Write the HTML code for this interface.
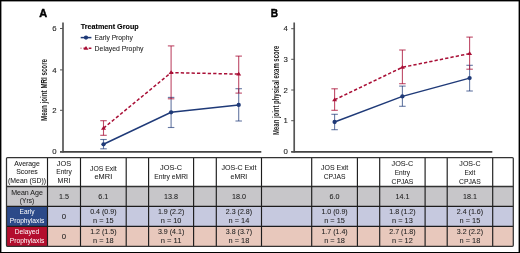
<!DOCTYPE html>
<html><head><meta charset="utf-8"><style>
html,body{margin:0;padding:0;width:520px;height:253px;overflow:hidden;background:#fff;}
svg{will-change:transform;transform:translateZ(0);-webkit-font-smoothing:antialiased;}
</style></head><body>
<svg width="520" height="253" viewBox="0 0 520 253" style="position:absolute;left:0;top:0;font-family:'Liberation Sans', sans-serif">
<rect x="0" y="0" width="520" height="253" fill="#fff"/>
<text x="39.3" y="16.6" font-size="11.6" text-anchor="start" fill="#000" stroke="#000" stroke-width="0.45" font-weight="bold" textLength="7.9" lengthAdjust="spacingAndGlyphs">A</text>
<line x1="63" y1="22.5" x2="63" y2="152.4" stroke="#555" stroke-width="1.7"/>
<line x1="60" y1="151.8" x2="261.3" y2="151.8" stroke="#444" stroke-width="1.7"/>
<line x1="60" y1="28.5" x2="63" y2="28.5" stroke="#555" stroke-width="1"/>
<text x="56.6" y="31.2" font-size="7.8" text-anchor="end" fill="#222" stroke="#222" stroke-width="0.1" font-weight="normal">6</text>
<line x1="60" y1="69.9" x2="63" y2="69.9" stroke="#555" stroke-width="1"/>
<text x="56.6" y="72.60000000000001" font-size="7.8" text-anchor="end" fill="#222" stroke="#222" stroke-width="0.1" font-weight="normal">4</text>
<line x1="60" y1="110.3" x2="63" y2="110.3" stroke="#555" stroke-width="1"/>
<text x="56.6" y="113.0" font-size="7.8" text-anchor="end" fill="#222" stroke="#222" stroke-width="0.1" font-weight="normal">2</text>
<line x1="60" y1="151.6" x2="63" y2="151.6" stroke="#555" stroke-width="1"/>
<text x="56.6" y="154.29999999999998" font-size="7.8" text-anchor="end" fill="#222" stroke="#222" stroke-width="0.1" font-weight="normal">0</text>
<text transform="translate(46.8,90.0) rotate(-90)" x="0" y="0" font-size="8.8" text-anchor="middle" fill="#222" stroke="#222" stroke-width="0" font-weight="bold" textLength="62" lengthAdjust="spacingAndGlyphs">Mean joint MRI score</text>
<line x1="103.5" y1="139.5" x2="103.5" y2="148.8" stroke="#1f3a78" stroke-width="1.1" opacity="0.68"/>
<line x1="100.25" y1="139.5" x2="106.75" y2="139.5" stroke="#1f3a78" stroke-width="1.1" opacity="0.68"/>
<line x1="100.25" y1="148.8" x2="106.75" y2="148.8" stroke="#1f3a78" stroke-width="1.1" opacity="0.68"/>
<line x1="171.1" y1="97.4" x2="171.1" y2="127.5" stroke="#1f3a78" stroke-width="1.1" opacity="0.68"/>
<line x1="167.85" y1="97.4" x2="174.35" y2="97.4" stroke="#1f3a78" stroke-width="1.1" opacity="0.68"/>
<line x1="167.85" y1="127.5" x2="174.35" y2="127.5" stroke="#1f3a78" stroke-width="1.1" opacity="0.68"/>
<line x1="238.7" y1="88.7" x2="238.7" y2="121" stroke="#1f3a78" stroke-width="1.1" opacity="0.68"/>
<line x1="235.45" y1="88.7" x2="241.95" y2="88.7" stroke="#1f3a78" stroke-width="1.1" opacity="0.68"/>
<line x1="235.45" y1="121" x2="241.95" y2="121" stroke="#1f3a78" stroke-width="1.1" opacity="0.68"/>
<line x1="103.5" y1="120.7" x2="103.5" y2="135.3" stroke="#a90f36" stroke-width="1.1" opacity="0.75"/>
<line x1="100.25" y1="120.7" x2="106.75" y2="120.7" stroke="#a90f36" stroke-width="1.1" opacity="0.75"/>
<line x1="100.25" y1="135.3" x2="106.75" y2="135.3" stroke="#a90f36" stroke-width="1.1" opacity="0.75"/>
<line x1="171.1" y1="45.9" x2="171.1" y2="98.8" stroke="#a90f36" stroke-width="1.1" opacity="0.75"/>
<line x1="167.85" y1="45.9" x2="174.35" y2="45.9" stroke="#a90f36" stroke-width="1.1" opacity="0.75"/>
<line x1="167.85" y1="98.8" x2="174.35" y2="98.8" stroke="#a90f36" stroke-width="1.1" opacity="0.75"/>
<line x1="238.7" y1="56.1" x2="238.7" y2="93.1" stroke="#a90f36" stroke-width="1.1" opacity="0.75"/>
<line x1="235.45" y1="56.1" x2="241.95" y2="56.1" stroke="#a90f36" stroke-width="1.1" opacity="0.75"/>
<line x1="235.45" y1="93.1" x2="241.95" y2="93.1" stroke="#a90f36" stroke-width="1.1" opacity="0.75"/>
<polyline points="103.5,144.3 171.1,112.3 238.7,104.9" fill="none" stroke="#1f3a78" stroke-width="1.5"/>
<polyline points="103.5,128.2 171.1,72.6 238.7,74.1" fill="none" stroke="#a90f36" stroke-width="1.5" stroke-dasharray="3.3,2.1"/>
<circle cx="103.5" cy="144.3" r="2.15" fill="#1f3a78"/>
<circle cx="171.1" cy="112.3" r="2.15" fill="#1f3a78"/>
<circle cx="238.7" cy="104.9" r="2.15" fill="#1f3a78"/>
<path d="M101.0,129.7 L106.0,129.7 L103.5,125.89999999999999 Z" fill="#a90f36"/>
<path d="M168.6,74.1 L173.6,74.1 L171.1,70.3 Z" fill="#a90f36"/>
<path d="M236.2,75.6 L241.2,75.6 L238.7,71.8 Z" fill="#a90f36"/>
<text x="270.7" y="16.6" font-size="11.6" text-anchor="start" fill="#000" stroke="#000" stroke-width="0.45" font-weight="bold" textLength="7.3" lengthAdjust="spacingAndGlyphs">B</text>
<line x1="294.2" y1="22.5" x2="294.2" y2="152.4" stroke="#555" stroke-width="1.7"/>
<line x1="291.2" y1="151.8" x2="492.3" y2="151.8" stroke="#444" stroke-width="1.7"/>
<line x1="291.2" y1="28.7" x2="294.2" y2="28.7" stroke="#555" stroke-width="1"/>
<text x="287.8" y="31.4" font-size="7.8" text-anchor="end" fill="#222" stroke="#222" stroke-width="0.1" font-weight="normal">4</text>
<line x1="291.2" y1="59.3" x2="294.2" y2="59.3" stroke="#555" stroke-width="1"/>
<text x="287.8" y="62.0" font-size="7.8" text-anchor="end" fill="#222" stroke="#222" stroke-width="0.1" font-weight="normal">3</text>
<line x1="291.2" y1="90" x2="294.2" y2="90" stroke="#555" stroke-width="1"/>
<text x="287.8" y="92.7" font-size="7.8" text-anchor="end" fill="#222" stroke="#222" stroke-width="0.1" font-weight="normal">2</text>
<line x1="291.2" y1="120.7" x2="294.2" y2="120.7" stroke="#555" stroke-width="1"/>
<text x="287.8" y="123.4" font-size="7.8" text-anchor="end" fill="#222" stroke="#222" stroke-width="0.1" font-weight="normal">1</text>
<line x1="291.2" y1="151.6" x2="294.2" y2="151.6" stroke="#555" stroke-width="1"/>
<text x="287.8" y="154.29999999999998" font-size="7.8" text-anchor="end" fill="#222" stroke="#222" stroke-width="0.1" font-weight="normal">0</text>
<text transform="translate(278.9,90.35) rotate(-90)" x="0" y="0" font-size="9.6" text-anchor="middle" fill="#222" stroke="#222" stroke-width="0" font-weight="bold" textLength="89.10000000000001" lengthAdjust="spacingAndGlyphs">Mean joint physical exam score</text>
<line x1="334.6" y1="114.3" x2="334.6" y2="129.7" stroke="#1f3a78" stroke-width="1.1" opacity="0.68"/>
<line x1="331.35" y1="114.3" x2="337.85" y2="114.3" stroke="#1f3a78" stroke-width="1.1" opacity="0.68"/>
<line x1="331.35" y1="129.7" x2="337.85" y2="129.7" stroke="#1f3a78" stroke-width="1.1" opacity="0.68"/>
<line x1="402.4" y1="86.1" x2="402.4" y2="106.3" stroke="#1f3a78" stroke-width="1.1" opacity="0.68"/>
<line x1="399.15" y1="86.1" x2="405.65" y2="86.1" stroke="#1f3a78" stroke-width="1.1" opacity="0.68"/>
<line x1="399.15" y1="106.3" x2="405.65" y2="106.3" stroke="#1f3a78" stroke-width="1.1" opacity="0.68"/>
<line x1="469.6" y1="65.3" x2="469.6" y2="91" stroke="#1f3a78" stroke-width="1.1" opacity="0.68"/>
<line x1="466.35" y1="65.3" x2="472.85" y2="65.3" stroke="#1f3a78" stroke-width="1.1" opacity="0.68"/>
<line x1="466.35" y1="91" x2="472.85" y2="91" stroke="#1f3a78" stroke-width="1.1" opacity="0.68"/>
<line x1="334.6" y1="88.8" x2="334.6" y2="110.3" stroke="#a90f36" stroke-width="1.1" opacity="0.75"/>
<line x1="331.35" y1="88.8" x2="337.85" y2="88.8" stroke="#a90f36" stroke-width="1.1" opacity="0.75"/>
<line x1="331.35" y1="110.3" x2="337.85" y2="110.3" stroke="#a90f36" stroke-width="1.1" opacity="0.75"/>
<line x1="402.4" y1="50" x2="402.4" y2="83.7" stroke="#a90f36" stroke-width="1.1" opacity="0.75"/>
<line x1="399.15" y1="50" x2="405.65" y2="50" stroke="#a90f36" stroke-width="1.1" opacity="0.75"/>
<line x1="399.15" y1="83.7" x2="405.65" y2="83.7" stroke="#a90f36" stroke-width="1.1" opacity="0.75"/>
<line x1="469.6" y1="37.1" x2="469.6" y2="69.2" stroke="#a90f36" stroke-width="1.1" opacity="0.75"/>
<line x1="466.35" y1="37.1" x2="472.85" y2="37.1" stroke="#a90f36" stroke-width="1.1" opacity="0.75"/>
<line x1="466.35" y1="69.2" x2="472.85" y2="69.2" stroke="#a90f36" stroke-width="1.1" opacity="0.75"/>
<polyline points="334.6,122 402.4,96.4 469.6,78.1" fill="none" stroke="#1f3a78" stroke-width="1.5"/>
<polyline points="334.6,99.8 402.4,67.3 469.6,53.6" fill="none" stroke="#a90f36" stroke-width="1.5" stroke-dasharray="3.3,2.1"/>
<circle cx="334.6" cy="122" r="2.15" fill="#1f3a78"/>
<circle cx="402.4" cy="96.4" r="2.15" fill="#1f3a78"/>
<circle cx="469.6" cy="78.1" r="2.15" fill="#1f3a78"/>
<path d="M332.1,101.3 L337.1,101.3 L334.6,97.5 Z" fill="#a90f36"/>
<path d="M399.9,68.8 L404.9,68.8 L402.4,65.0 Z" fill="#a90f36"/>
<path d="M467.1,55.1 L472.1,55.1 L469.6,51.300000000000004 Z" fill="#a90f36"/>
<text x="80.7" y="28.9" font-size="7.9" text-anchor="start" fill="#000" stroke="#000" stroke-width="0.12" font-weight="bold" textLength="58" lengthAdjust="spacingAndGlyphs">Treatment Group</text>
<line x1="80.7" y1="37.6" x2="91.4" y2="37.6" stroke="#1f3a78" stroke-width="1.5"/>
<circle cx="86" cy="37.6" r="2.15" fill="#1f3a78"/>
<text x="94.6" y="39.8" font-size="7.9" text-anchor="start" fill="#222" stroke="#222" stroke-width="0.06" font-weight="normal" textLength="38.2" lengthAdjust="spacingAndGlyphs">Early Prophy</text>
<line x1="80.7" y1="48.3" x2="91.4" y2="48.3" stroke="#a90f36" stroke-width="1.5" stroke-dasharray="3,2.2" stroke-dashoffset="2.4"/>
<path d="M83.5,49.8 L88.5,49.8 L86,46.0 Z" fill="#a90f36"/>
<text x="94.6" y="50.6" font-size="7.9" text-anchor="start" fill="#222" stroke="#222" stroke-width="0.06" font-weight="normal" textLength="48.9" lengthAdjust="spacingAndGlyphs">Delayed Prophy</text>
<rect x="6.5" y="157.6" width="506.79999999999995" height="88.70000000000002" fill="#fff"/>
<rect x="6.5" y="186.6" width="506.79999999999995" height="19.700000000000017" fill="#c7c6c9"/>
<rect x="6.5" y="206.3" width="506.79999999999995" height="20.0" fill="#c6c9df"/>
<rect x="6.5" y="226.3" width="506.79999999999995" height="20.0" fill="#e8c8bc"/>
<rect x="6.5" y="206.3" width="41.0" height="20.0" fill="#2c4a89"/>
<rect x="6.5" y="226.3" width="41.0" height="20.0" fill="#b30e2d"/>
<line x1="6.5" y1="186.6" x2="513.3" y2="186.6" stroke="#333" stroke-width="1.5"/>
<line x1="6.5" y1="206.3" x2="513.3" y2="206.3" stroke="#1c1c1c" stroke-width="1.15"/>
<line x1="6.5" y1="226.3" x2="513.3" y2="226.3" stroke="#1c1c1c" stroke-width="1.15"/>
<line x1="47.5" y1="157.6" x2="47.5" y2="246.3" stroke="#1c1c1c" stroke-width="1.15"/>
<line x1="80.5" y1="157.6" x2="80.5" y2="246.3" stroke="#1c1c1c" stroke-width="1.15"/>
<line x1="126.2" y1="157.6" x2="126.2" y2="246.3" stroke="#1c1c1c" stroke-width="1.15"/>
<line x1="148.6" y1="157.6" x2="148.6" y2="246.3" stroke="#1c1c1c" stroke-width="1.15"/>
<line x1="193.6" y1="157.6" x2="193.6" y2="246.3" stroke="#1c1c1c" stroke-width="1.15"/>
<line x1="216.3" y1="157.6" x2="216.3" y2="246.3" stroke="#1c1c1c" stroke-width="1.15"/>
<line x1="261.5" y1="157.6" x2="261.5" y2="246.3" stroke="#1c1c1c" stroke-width="1.15"/>
<line x1="311.7" y1="157.6" x2="311.7" y2="246.3" stroke="#1c1c1c" stroke-width="1.15"/>
<line x1="357.4" y1="157.6" x2="357.4" y2="246.3" stroke="#1c1c1c" stroke-width="1.15"/>
<line x1="379.7" y1="157.6" x2="379.7" y2="246.3" stroke="#1c1c1c" stroke-width="1.15"/>
<line x1="425.1" y1="157.6" x2="425.1" y2="246.3" stroke="#1c1c1c" stroke-width="1.15"/>
<line x1="447.2" y1="157.6" x2="447.2" y2="246.3" stroke="#1c1c1c" stroke-width="1.15"/>
<line x1="492.7" y1="157.6" x2="492.7" y2="246.3" stroke="#1c1c1c" stroke-width="1.15"/>
<rect x="6.5" y="157.6" width="506.79999999999995" height="88.70000000000002" rx="1" fill="none" stroke="#333" stroke-width="1.25"/>
<text x="27.0" y="165.6" font-size="7.8" text-anchor="middle" fill="#222" stroke="#222" stroke-width="0.06" font-weight="normal" textLength="25.5" lengthAdjust="spacingAndGlyphs">Average</text>
<text x="27.0" y="173.9" font-size="7.8" text-anchor="middle" fill="#222" stroke="#222" stroke-width="0.06" font-weight="normal" textLength="21.6" lengthAdjust="spacingAndGlyphs">Scores</text>
<text x="27.0" y="182.70000000000002" font-size="7.8" text-anchor="middle" fill="#222" stroke="#222" stroke-width="0.06" font-weight="normal" textLength="38" lengthAdjust="spacingAndGlyphs">(Mean (SD))</text>
<text x="64.0" y="165.5" font-size="7.8" text-anchor="middle" fill="#222" stroke="#222" stroke-width="0.06" font-weight="normal" textLength="14.3" lengthAdjust="spacingAndGlyphs">JOS</text>
<text x="64.0" y="174.20000000000002" font-size="7.8" text-anchor="middle" fill="#222" stroke="#222" stroke-width="0.06" font-weight="normal" textLength="15.5" lengthAdjust="spacingAndGlyphs">Entry</text>
<text x="64.0" y="182.70000000000002" font-size="7.8" text-anchor="middle" fill="#222" stroke="#222" stroke-width="0.06" font-weight="normal" textLength="12.8" lengthAdjust="spacingAndGlyphs">MRI</text>
<text x="103.35" y="170.70000000000002" font-size="7.8" text-anchor="middle" fill="#222" stroke="#222" stroke-width="0.06" font-weight="normal" textLength="26.6" lengthAdjust="spacingAndGlyphs">JOS Exit</text>
<text x="103.35" y="179.0" font-size="7.8" text-anchor="middle" fill="#222" stroke="#222" stroke-width="0.06" font-weight="normal" textLength="17.7" lengthAdjust="spacingAndGlyphs">eMRI</text>
<text x="171.1" y="170.20000000000002" font-size="7.8" text-anchor="middle" fill="#222" stroke="#222" stroke-width="0.06" font-weight="normal" textLength="22" lengthAdjust="spacingAndGlyphs">JOS-C</text>
<text x="171.1" y="179.0" font-size="7.8" text-anchor="middle" fill="#222" stroke="#222" stroke-width="0.06" font-weight="normal" textLength="33.8" lengthAdjust="spacingAndGlyphs">Entry eMRI</text>
<text x="238.9" y="170.0" font-size="7.8" text-anchor="middle" fill="#222" stroke="#222" stroke-width="0.06" font-weight="normal" textLength="35" lengthAdjust="spacingAndGlyphs">JOS-C Exit</text>
<text x="238.9" y="178.9" font-size="7.8" text-anchor="middle" fill="#222" stroke="#222" stroke-width="0.06" font-weight="normal" textLength="16.8" lengthAdjust="spacingAndGlyphs">eMRI</text>
<text x="334.54999999999995" y="170.20000000000002" font-size="7.8" text-anchor="middle" fill="#222" stroke="#222" stroke-width="0.06" font-weight="normal" textLength="27.1" lengthAdjust="spacingAndGlyphs">JOS Exit</text>
<text x="334.54999999999995" y="178.70000000000002" font-size="7.8" text-anchor="middle" fill="#222" stroke="#222" stroke-width="0.06" font-weight="normal" textLength="21.7" lengthAdjust="spacingAndGlyphs">CPJAS</text>
<text x="402.4" y="166.0" font-size="7.8" text-anchor="middle" fill="#222" stroke="#222" stroke-width="0.06" font-weight="normal" textLength="21.8" lengthAdjust="spacingAndGlyphs">JOS-C</text>
<text x="402.4" y="174.70000000000002" font-size="7.8" text-anchor="middle" fill="#222" stroke="#222" stroke-width="0.06" font-weight="normal" textLength="15.3" lengthAdjust="spacingAndGlyphs">Entry</text>
<text x="402.4" y="183.5" font-size="7.8" text-anchor="middle" fill="#222" stroke="#222" stroke-width="0.06" font-weight="normal" textLength="21.8" lengthAdjust="spacingAndGlyphs">CPJAS</text>
<text x="469.95" y="166.0" font-size="7.8" text-anchor="middle" fill="#222" stroke="#222" stroke-width="0.06" font-weight="normal" textLength="21.2" lengthAdjust="spacingAndGlyphs">JOS-C</text>
<text x="469.95" y="174.70000000000002" font-size="7.8" text-anchor="middle" fill="#222" stroke="#222" stroke-width="0.06" font-weight="normal" textLength="10.8" lengthAdjust="spacingAndGlyphs">Exit</text>
<text x="469.95" y="183.5" font-size="7.8" text-anchor="middle" fill="#222" stroke="#222" stroke-width="0.06" font-weight="normal" textLength="21.8" lengthAdjust="spacingAndGlyphs">CPJAS</text>
<text x="27.0" y="194.8" font-size="7.8" text-anchor="middle" fill="#222" stroke="#222" stroke-width="0.06" font-weight="normal" textLength="31.6" lengthAdjust="spacingAndGlyphs">Mean Age</text>
<text x="27.0" y="203.1" font-size="7.8" text-anchor="middle" fill="#222" stroke="#222" stroke-width="0.06" font-weight="normal" textLength="14.3" lengthAdjust="spacingAndGlyphs">(Yrs)</text>
<text x="64.0" y="199.20000000000002" font-size="7.8" text-anchor="middle" fill="#222" stroke="#222" stroke-width="0.06" font-weight="normal" textLength="9.98" lengthAdjust="spacingAndGlyphs">1.5</text>
<text x="103.35" y="199.20000000000002" font-size="7.8" text-anchor="middle" fill="#222" stroke="#222" stroke-width="0.06" font-weight="normal" textLength="9.98" lengthAdjust="spacingAndGlyphs">6.1</text>
<text x="171.1" y="199.20000000000002" font-size="7.8" text-anchor="middle" fill="#222" stroke="#222" stroke-width="0.06" font-weight="normal" textLength="13.97" lengthAdjust="spacingAndGlyphs">13.8</text>
<text x="238.9" y="199.20000000000002" font-size="7.8" text-anchor="middle" fill="#222" stroke="#222" stroke-width="0.06" font-weight="normal" textLength="13.97" lengthAdjust="spacingAndGlyphs">18.0</text>
<text x="334.54999999999995" y="199.20000000000002" font-size="7.8" text-anchor="middle" fill="#222" stroke="#222" stroke-width="0.06" font-weight="normal" textLength="9.98" lengthAdjust="spacingAndGlyphs">6.0</text>
<text x="402.4" y="199.20000000000002" font-size="7.8" text-anchor="middle" fill="#222" stroke="#222" stroke-width="0.06" font-weight="normal" textLength="13.97" lengthAdjust="spacingAndGlyphs">14.1</text>
<text x="469.95" y="199.20000000000002" font-size="7.8" text-anchor="middle" fill="#222" stroke="#222" stroke-width="0.06" font-weight="normal" textLength="13.97" lengthAdjust="spacingAndGlyphs">18.1</text>
<text x="27.0" y="214.3" font-size="7.8" text-anchor="middle" fill="#fff" stroke="#fff" stroke-width="0" font-weight="normal" textLength="15" lengthAdjust="spacingAndGlyphs">Early</text>
<text x="27.0" y="222.70000000000002" font-size="7.8" text-anchor="middle" fill="#fff" stroke="#fff" stroke-width="0" font-weight="normal" textLength="34.5" lengthAdjust="spacingAndGlyphs">Prophylaxis</text>
<text x="64.0" y="219.0" font-size="7.8" text-anchor="middle" fill="#222" stroke="#222" stroke-width="0.06" font-weight="normal">0</text>
<text x="103.35" y="214.4" font-size="7.8" text-anchor="middle" fill="#222" stroke="#222" stroke-width="0.06" font-weight="normal" textLength="26.3" lengthAdjust="spacingAndGlyphs">0.4 (0.9)</text>
<text x="103.35" y="222.9" font-size="7.8" text-anchor="middle" fill="#222" stroke="#222" stroke-width="0.06" font-weight="normal" textLength="20.7" lengthAdjust="spacingAndGlyphs">n = 15</text>
<text x="171.1" y="214.4" font-size="7.8" text-anchor="middle" fill="#222" stroke="#222" stroke-width="0.06" font-weight="normal" textLength="26.3" lengthAdjust="spacingAndGlyphs">1.9 (2.2)</text>
<text x="171.1" y="222.9" font-size="7.8" text-anchor="middle" fill="#222" stroke="#222" stroke-width="0.06" font-weight="normal" textLength="20.7" lengthAdjust="spacingAndGlyphs">n = 10</text>
<text x="238.9" y="214.4" font-size="7.8" text-anchor="middle" fill="#222" stroke="#222" stroke-width="0.06" font-weight="normal" textLength="26.3" lengthAdjust="spacingAndGlyphs">2.3 (2.8)</text>
<text x="238.9" y="222.9" font-size="7.8" text-anchor="middle" fill="#222" stroke="#222" stroke-width="0.06" font-weight="normal" textLength="20.7" lengthAdjust="spacingAndGlyphs">n = 14</text>
<text x="334.54999999999995" y="214.4" font-size="7.8" text-anchor="middle" fill="#222" stroke="#222" stroke-width="0.06" font-weight="normal" textLength="26.3" lengthAdjust="spacingAndGlyphs">1.0 (0.9)</text>
<text x="334.54999999999995" y="222.9" font-size="7.8" text-anchor="middle" fill="#222" stroke="#222" stroke-width="0.06" font-weight="normal" textLength="20.7" lengthAdjust="spacingAndGlyphs">n = 15</text>
<text x="402.4" y="214.4" font-size="7.8" text-anchor="middle" fill="#222" stroke="#222" stroke-width="0.06" font-weight="normal" textLength="26.3" lengthAdjust="spacingAndGlyphs">1.8 (1.2)</text>
<text x="402.4" y="222.9" font-size="7.8" text-anchor="middle" fill="#222" stroke="#222" stroke-width="0.06" font-weight="normal" textLength="20.7" lengthAdjust="spacingAndGlyphs">n = 13</text>
<text x="469.95" y="214.4" font-size="7.8" text-anchor="middle" fill="#222" stroke="#222" stroke-width="0.06" font-weight="normal" textLength="26.3" lengthAdjust="spacingAndGlyphs">2.4 (1.6)</text>
<text x="469.95" y="222.9" font-size="7.8" text-anchor="middle" fill="#222" stroke="#222" stroke-width="0.06" font-weight="normal" textLength="20.7" lengthAdjust="spacingAndGlyphs">n = 15</text>
<text x="27.0" y="234.3" font-size="7.8" text-anchor="middle" fill="#fff" stroke="#fff" stroke-width="0" font-weight="normal" textLength="24.5" lengthAdjust="spacingAndGlyphs">Delayed</text>
<text x="27.0" y="242.9" font-size="7.8" text-anchor="middle" fill="#fff" stroke="#fff" stroke-width="0" font-weight="normal" textLength="34.5" lengthAdjust="spacingAndGlyphs">Prophylaxis</text>
<text x="64.0" y="238.6" font-size="7.8" text-anchor="middle" fill="#222" stroke="#222" stroke-width="0.06" font-weight="normal">0</text>
<text x="103.35" y="234.0" font-size="7.8" text-anchor="middle" fill="#222" stroke="#222" stroke-width="0.06" font-weight="normal" textLength="26.3" lengthAdjust="spacingAndGlyphs">1.2 (1.5)</text>
<text x="103.35" y="242.8" font-size="7.8" text-anchor="middle" fill="#222" stroke="#222" stroke-width="0.06" font-weight="normal" textLength="20.7" lengthAdjust="spacingAndGlyphs">n = 18</text>
<text x="171.1" y="234.0" font-size="7.8" text-anchor="middle" fill="#222" stroke="#222" stroke-width="0.06" font-weight="normal" textLength="26.3" lengthAdjust="spacingAndGlyphs">3.9 (4.1)</text>
<text x="171.1" y="242.8" font-size="7.8" text-anchor="middle" fill="#222" stroke="#222" stroke-width="0.06" font-weight="normal" textLength="20.7" lengthAdjust="spacingAndGlyphs">n = 11</text>
<text x="238.9" y="234.0" font-size="7.8" text-anchor="middle" fill="#222" stroke="#222" stroke-width="0.06" font-weight="normal" textLength="26.3" lengthAdjust="spacingAndGlyphs">3.8 (3.7)</text>
<text x="238.9" y="242.8" font-size="7.8" text-anchor="middle" fill="#222" stroke="#222" stroke-width="0.06" font-weight="normal" textLength="20.7" lengthAdjust="spacingAndGlyphs">n = 18</text>
<text x="334.54999999999995" y="234.0" font-size="7.8" text-anchor="middle" fill="#222" stroke="#222" stroke-width="0.06" font-weight="normal" textLength="26.3" lengthAdjust="spacingAndGlyphs">1.7 (1.4)</text>
<text x="334.54999999999995" y="242.8" font-size="7.8" text-anchor="middle" fill="#222" stroke="#222" stroke-width="0.06" font-weight="normal" textLength="20.7" lengthAdjust="spacingAndGlyphs">n = 18</text>
<text x="402.4" y="234.0" font-size="7.8" text-anchor="middle" fill="#222" stroke="#222" stroke-width="0.06" font-weight="normal" textLength="26.3" lengthAdjust="spacingAndGlyphs">2.7 (1.8)</text>
<text x="402.4" y="242.8" font-size="7.8" text-anchor="middle" fill="#222" stroke="#222" stroke-width="0.06" font-weight="normal" textLength="20.7" lengthAdjust="spacingAndGlyphs">n = 12</text>
<text x="469.95" y="234.0" font-size="7.8" text-anchor="middle" fill="#222" stroke="#222" stroke-width="0.06" font-weight="normal" textLength="26.3" lengthAdjust="spacingAndGlyphs">3.2 (2.2)</text>
<text x="469.95" y="242.8" font-size="7.8" text-anchor="middle" fill="#222" stroke="#222" stroke-width="0.06" font-weight="normal" textLength="20.7" lengthAdjust="spacingAndGlyphs">n = 18</text>
<rect x="0" y="0" width="520" height="1.4" fill="#000"/>
<rect x="0" y="0" width="1.4" height="253" fill="#000"/>
<rect x="518.6" y="0" width="1.4" height="253" fill="#000"/>
<rect x="0" y="252" width="520" height="1" fill="#000"/>
</svg>
</body></html>
